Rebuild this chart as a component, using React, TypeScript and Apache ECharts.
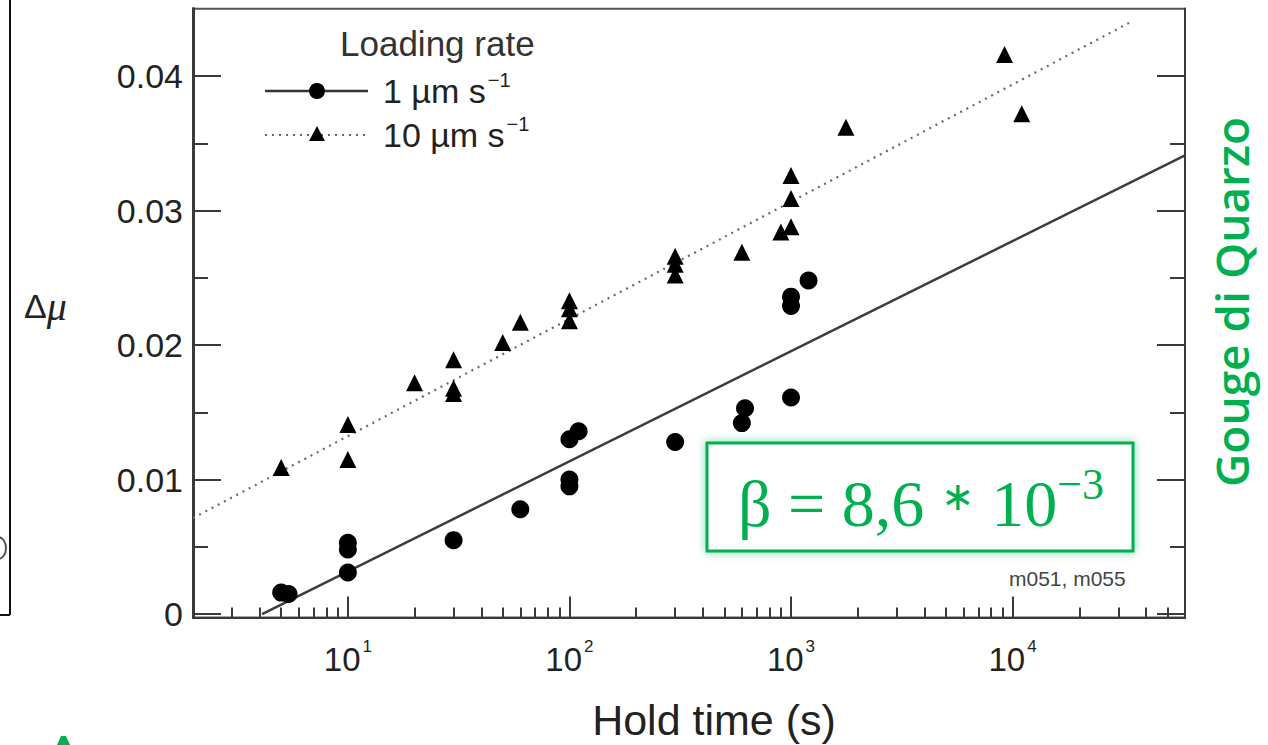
import React, { useEffect, useRef } from "react";
import * as echarts from "echarts";

// ---- data ----
const HOLD_1 = [5, 5.4, 10, 10, 10, 30, 60, 100, 100, 100, 110, 300, 600, 620, 1000, 1000, 1000, 1200];
const MU_1 = [0.0016, 0.0015, 0.0053, 0.0048, 0.0031, 0.0055, 0.0078, 0.013, 0.01, 0.0095, 0.0136, 0.0128, 0.0142, 0.0153, 0.0161, 0.0236, 0.0229, 0.0248];
const HOLD_10 = [5, 10, 10, 20, 30, 30, 30, 50, 60, 100, 100, 100, 300, 300, 300, 600, 900, 1000, 1000, 1000, 1770, 9200, 11000];
const MU_10 = [0.0109, 0.0141, 0.0115, 0.0172, 0.0189, 0.0168, 0.0164, 0.0202, 0.0217, 0.0233, 0.0227, 0.0218, 0.0266, 0.026, 0.0252, 0.0269, 0.0284, 0.0326, 0.0309, 0.0288, 0.0362, 0.0416, 0.0372];
const FIT_1_T = [4.1, 60000];
const FIT_1_MU = [0, 0.0341];
const FIT_10_T = [2, 34000];
const FIT_10_MU = [0.00714, 0.044];

const X_MIN = 2;
const X_MAX = 60000;
const Y_MIN = -0.00025;
const Y_MAX = 0.045;
const Y_MAJOR = [0, 0.01, 0.02, 0.03, 0.04];
const Y_MINOR = [0.005, 0.015, 0.025, 0.035];
const X_DECADES = [1, 10, 100, 1000, 10000];
const X_MULT = [2, 3, 4, 5, 6, 7, 8, 9];

const SERIES_1 = "1 µm s⁻¹";
const SERIES_10 = "10 µm s⁻¹";

const zip = (a: number[], b: number[]) => a.map((v, i) => [v, b[i]]);

export default function App() {
  const ref = useRef<HTMLDivElement>(null);
  useEffect(() => {
    if (!ref.current) return;
    const chart = echarts.init(ref.current, null, { renderer: "svg" });
    const xMinorLog: number[] = [];
    X_DECADES.forEach((d) =>
      X_MULT.forEach((m) => {
        const v = m * d;
        if (v >= X_MIN && v <= X_MAX) xMinorLog.push(Math.log10(v));
      })
    );
    const axisColor = "#3a3a3a";
    const labelFont = "Liberation Sans";
    const yAxisBase = (pos: "left" | "right", values: number[], len: number, labels: boolean) => ({
      type: "value",
      position: pos,
      min: Y_MIN,
      max: Y_MAX,
      splitLine: { show: false },
      axisLine: { show: true, lineStyle: { color: axisColor, width: pos === "left" ? 3 : 2 } },
      axisTick: { show: true, inside: true, length: len, customValues: values, lineStyle: { color: axisColor, width: 2 } },
      axisLabel: labels
        ? { show: true, customValues: values, margin: 10, fontFamily: labelFont, fontSize: 34, color: "#222", formatter: (v: number) => (v === 0 ? "0" : String(Number(v.toFixed(3)))) }
        : { show: false },
    });
    const legendRich = {
      b: { fontFamily: labelFont, fontSize: 34, fill: "#222", verticalAlign: "bottom", lineHeight: 38 },
      s: { fontFamily: labelFont, fontSize: 20, fill: "#222", verticalAlign: "top", lineHeight: 38, padding: [0, 0, 0, 2] },
    };
    const green = "#00B050";

    const option: any = {
      animation: false,
      backgroundColor: "#fff",
      grid: {
        left: 193,
        right: 83,
        top: 8.75,
        bottom: 127.5,
        show: true,
        borderColor: "#555",
        borderWidth: 2,
        outerBoundsMode: "none",
      },
      xAxis: [
        {
          type: "log",
          logBase: 10,
          min: X_MIN,
          max: X_MAX,
          position: "bottom",
          splitLine: { show: false },
          axisLine: { show: true, onZero: false, lineStyle: { color: axisColor, width: 2 } },
          axisTick: { show: true, inside: true, length: 21, lineStyle: { color: axisColor, width: 2 } },
          axisLabel: {
            show: true,
            showMinLabel: false,
            showMaxLabel: false,
            margin: 20,
            formatter: (v: number) => `{b|10}{s|${Math.round(Math.log10(v))}}`,
            rich: {
              b: { fontFamily: labelFont, fontSize: 33, color: "#222", verticalAlign: "bottom", lineHeight: 38 },
              s: { fontFamily: labelFont, fontSize: 17, color: "#222", verticalAlign: "top", lineHeight: 38, padding: [0, 0, 0, 2] },
            },
          },
        },
        {
          type: "value",
          min: Math.log10(X_MIN),
          max: Math.log10(X_MAX),
          position: "bottom",
          splitLine: { show: false },
          axisLine: { show: false, onZero: false },
          axisTick: { show: true, inside: true, length: 10, customValues: xMinorLog, lineStyle: { color: axisColor, width: 2 } },
          axisLabel: { show: false },
        },
      ],
      yAxis: [
        yAxisBase("left", Y_MAJOR, 28, true),
        yAxisBase("left", Y_MINOR, 15, false),
        yAxisBase("right", Y_MAJOR, 28, false),
        yAxisBase("right", Y_MINOR, 15, false),
      ],
      series: [
        {
          name: SERIES_1 + " fit",
          type: "line",
          data: zip(FIT_1_T, FIT_1_MU),
          showSymbol: false,
          symbol: "none",
          clip: true,
          lineStyle: { color: "#3c3c3c", width: 2.5 },
          z: 2,
        },
        {
          name: SERIES_10 + " fit",
          type: "line",
          data: zip(FIT_10_T, FIT_10_MU),
          showSymbol: false,
          symbol: "none",
          clip: true,
          lineStyle: { color: "#6a6a6a", width: 2.2, type: [2, 5] },
          z: 2,
        },
        {
          name: SERIES_1,
          type: "scatter",
          data: zip(HOLD_1, MU_1),
          symbol: "circle",
          symbolSize: 18,
          itemStyle: { color: "#000", opacity: 1 },
          z: 3,
        },
        {
          name: SERIES_10,
          type: "scatter",
          data: zip(HOLD_10, MU_10),
          symbol: "triangle",
          symbolSize: [17, 17],
          itemStyle: { color: "#000", opacity: 1 },
          z: 3,
        },
      ],
      graphic: [
        // legend
        { type: "text", left: 340, top: 26, style: { text: "Loading rate", fontFamily: labelFont, fontSize: 35, fill: "#333" } },
        { type: "line", shape: { x1: 265, y1: 91, x2: 368, y2: 91 }, style: { stroke: "#333", lineWidth: 2.5 } },
        { type: "circle", shape: { cx: 317, cy: 91, r: 8 }, style: { fill: "#000" } },
        { type: "text", x: 383, y: 89, style: { text: "{b|1 µm s}{s|−1}", verticalAlign: "middle", rich: legendRich } },
        { type: "line", shape: { x1: 265, y1: 135, x2: 368, y2: 135 }, style: { stroke: "#666", lineWidth: 2.2, lineDash: [2, 5] } },
        { type: "polygon", shape: { points: [[317, 126], [309, 141], [325, 141]] }, style: { fill: "#000" } },
        { type: "text", x: 383, y: 133, style: { text: "{b|10 µm s}{s|−1}", verticalAlign: "middle", rich: legendRich } },
        // axis names
        { type: "text", x: 24, y: 306, style: { text: "{a|Δ}{m|μ}", verticalAlign: "middle", rich: { a: { fontFamily: labelFont, fontSize: 34, fill: "#222" }, m: { fontFamily: "Liberation Serif", fontStyle: "italic", fontSize: 40, fill: "#222" } } } },
        { type: "text", x: 714, y: 720, style: { text: "Hold time (s)", align: "center", verticalAlign: "middle", fontFamily: labelFont, fontSize: 43, fill: "#222" } },
        { type: "text", x: 1009, y: 578, style: { text: "m051, m055", verticalAlign: "middle", fontFamily: labelFont, fontSize: 21, fill: "#444" } },
        // beta box
        { type: "rect", shape: { x: 707, y: 443, width: 426, height: 108 }, style: { fill: "#fff", stroke: green, lineWidth: 3, shadowBlur: 10, shadowColor: "rgba(0,176,80,0.5)" }, z: 10 },
        {
          type: "text", x: 921, y: 499, z: 11,
          style: {
            text: "{b|β = 8,6 }{a|∗}{b| 10}{s|−3}",
            align: "center",
            verticalAlign: "middle",
            rich: {
              b: { fontFamily: "Liberation Serif", fontSize: 66, fill: green, verticalAlign: "bottom", lineHeight: 74 },
              a: { fontFamily: "Liberation Serif", fontSize: 40, fill: green, verticalAlign: "top", lineHeight: 40, padding: [14, 0, 0, 0] },
              s: { fontFamily: "Liberation Serif", fontSize: 44, fill: green, verticalAlign: "top", lineHeight: 74 },
            },
          },
        },
        // right title
        { type: "text", x: 1231, y: 302, rotation: Math.PI / 2, style: { text: "Gouge di Quarzo", align: "center", verticalAlign: "middle", fontFamily: "Open Sans", fontWeight: 600, fontSize: 46, fill: green } },
        // left-edge fragments of the neighbouring slide
        { type: "line", shape: { x1: 10, y1: 0, x2: 10, y2: 615 }, style: { stroke: "#111", lineWidth: 2 } },
        { type: "line", shape: { x1: 0, y1: 615, x2: 10, y2: 615 }, style: { stroke: "#111", lineWidth: 2 } },
        { type: "ellipse", shape: { cx: -2, cy: 548, rx: 8, ry: 11 }, style: { fill: "none", stroke: "#555", lineWidth: 2 } },
        { type: "polygon", shape: { points: [[57, 745], [61, 736], [66, 736], [70, 745]] }, style: { fill: green } },
      ],
    };
    chart.setOption(option);
    return () => chart.dispose();
  }, []);
  return <div ref={ref} style={{ position: "fixed", left: 0, top: 0, width: 1268, height: 745 }} />;
}
